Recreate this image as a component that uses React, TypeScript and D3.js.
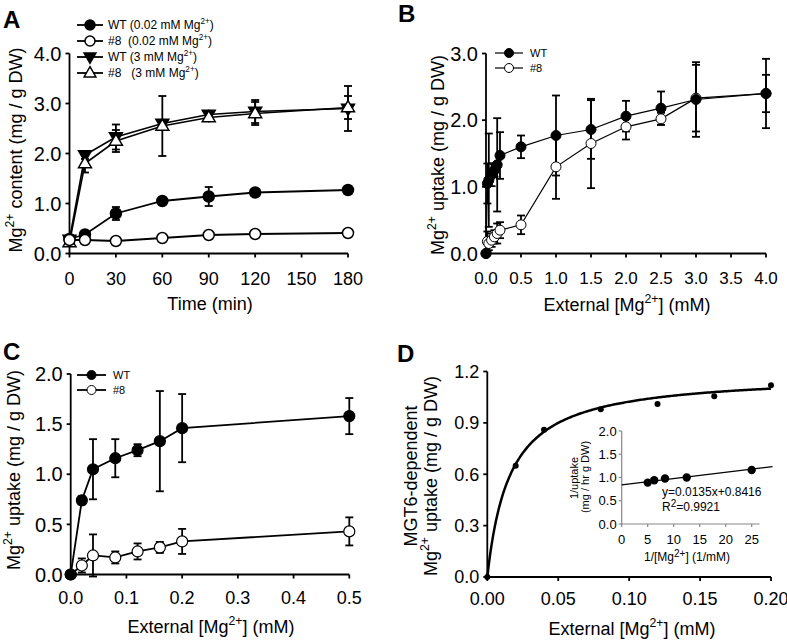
import React from "react";
import * as d3 from "d3";

const FONT = "Arial, 'Liberation Sans', Helvetica, sans-serif";

// ---------- Panel A ----------
const timeA = [0, 10, 30, 60, 90, 120, 180];
const wtLowA = [0.29, 0.38, 0.8, 1.05, 1.14, 1.22, 1.27];
const wtLowErrA = [0.03, 0.05, 0.13, 0.04, 0.19, 0.05, 0.04];
const m8LowA = [0.27, 0.27, 0.25, 0.31, 0.37, 0.39, 0.41];
const m8LowErrA = [0.02, 0.02, 0.02, 0.02, 0.03, 0.02, 0.02];
const wtHighA = [0.28, 1.97, 2.33, 2.6, 2.78, 2.84, 2.9];
const wtHighErrA = [0.03, 0.08, 0.25, 0.05, 0.07, 0.23, 0.45];
const m8HighA = [0.22, 1.8, 2.25, 2.55, 2.72, 2.8, 2.92];
const m8HighErrA = [0.03, 0.18, 0.22, 0.6, 0.07, 0.23, 0.23];
const ticksAx = [0, 30, 60, 90, 120, 150, 180];
const ticksAy = [0, 1, 2, 3, 4];
const legendA = ["WT (0.02 mM ", "#8  (0.02 mM ", "WT (3 mM ", "#8   (3 mM "];

// ---------- Panel B ----------
const concB = [0, 0.02, 0.04, 0.08, 0.12, 0.16, 0.2, 0.5, 1, 1.5, 2, 2.5, 3, 4];
const wtB = [0, 1.05, 1.1, 1.18, 1.25, 1.33, 1.47, 1.6, 1.77, 1.86, 2.06, 2.18, 2.31, 2.4];
const wtErrB = [0, 0.3, 0.7, 0.17, 0.1, 0.7, 0.35, 0.17, 0.6, 0.44, 0.23, 0.25, 0.56, 0.52];
const m8B = [0, 0.18, 0.15, 0.2, 0.25, 0.3, 0.35, 0.43, 1.3, 1.65, 1.9, 2.02, 2.33, 2.4];
const m8ErrB = [0, 0.15, 0.1, 0.1, 0.1, 0.15, 0.12, 0.14, 0.48, 0.67, 0.19, 0.09, 0.5, 0.28];
const ticksBx = [0, 0.5, 1, 1.5, 2, 2.5, 3, 3.5, 4];
const ticksBy = [0, 1, 2, 3];

// ---------- Panel C ----------
const concC = [0, 0.02, 0.04, 0.08, 0.12, 0.16, 0.2, 0.5];
const wtC = [0, 0.74, 1.05, 1.16, 1.24, 1.33, 1.46, 1.58];
const wtErrC = [0, 0.04, 0.3, 0.19, 0.06, 0.5, 0.34, 0.18];
const m8C = [0, 0.09, 0.19, 0.17, 0.23, 0.27, 0.33, 0.43];
const m8ErrC = [0, 0.07, 0.21, 0.06, 0.08, 0.055, 0.125, 0.14];
const ticksCx = [0, 0.1, 0.2, 0.3, 0.4, 0.5];
const ticksCy = [0, 0.5, 1, 1.5, 2];

// ---------- Panel D ----------
const concD = [0, 0.02, 0.04, 0.08, 0.12, 0.16, 0.2];
const uptakeD = [0, 0.65, 0.86, 0.98, 1.01, 1.055, 1.12];
const fitSlope = 0.0135;
const fitIntercept = 0.8416;
const fitR2 = "0.9921";
const ticksDx = [0, 0.05, 0.1, 0.15, 0.2];
const ticksDy = [0, 0.3, 0.6, 0.9, 1.2];
const invConc = [5, 6.25, 8.33, 12.5, 25];
const invUptake = [0.89, 0.94, 0.98, 1.0, 1.16];
const ticksIx = [0, 5, 10, 15, 20, 25];
const ticksIy = [0, 0.5, 1, 1.5, 2];

// ---------- scales ----------
const xA = d3.scaleLinear().domain([0, 180]).range([69.5, 348]);
const yA = d3.scaleLinear().domain([0, 4]).range([253.5, 53.5]);
const xB = d3.scaleLinear().domain([0, 4]).range([486, 766]);
const yB = d3.scaleLinear().domain([0, 3]).range([253.5, 53.5]);
const xC = d3.scaleLinear().domain([0, 0.5]).range([70.7, 349.3]);
const yC = d3.scaleLinear().domain([0, 2]).range([574.5, 374]);
const xD = d3.scaleLinear().domain([0, 0.2]).range([487.3, 771]);
const yD = d3.scaleLinear().domain([0, 1.2]).range([577, 371.5]);
const xI = d3.scaleLinear().domain([0, 25]).range([621.7, 751.7]);
const yI = d3.scaleLinear().domain([0, 2]).range([524, 431]);

type Sc = d3.ScaleLinear<number, number>;

function Mg({ pre = "", post = "", fs }: { pre?: string; post?: string; fs: number }) {
  return (
    <>
      {pre}Mg
      <tspan dy={-fs * 0.42} fontSize={fs * 0.68}>2+</tspan>
      <tspan dy={fs * 0.42}>{post}</tspan>
    </>
  );
}

function YAxis({ x, y, ticks, fmt, fs, stroke = "#000", sw = 1.8, gap = 8, tl = 4 }: any) {
  const x0 = x.range()[0];
  const [d0, d1] = y.domain();
  return (
    <g>
      <line x1={x0} x2={x0} y1={y(d0) + sw / 2} y2={y(d1)} stroke={stroke} strokeWidth={sw} />
      {ticks.map((t: number) => (
        <g key={t}>
          <line x1={x0 - tl} x2={x0} y1={y(t)} y2={y(t)} stroke={stroke} strokeWidth={sw} />
          <text x={x0 - gap} y={y(t)} dy="0.36em" textAnchor="end" fontSize={fs} fontFamily={FONT}>
            {fmt(t)}
          </text>
        </g>
      ))}
    </g>
  );
}

function XAxis({ x, y, ticks, fmt, fs, stroke = "#000", sw = 1.8, off = 29, tl = 4, xmax }: any) {
  const y0 = y.range()[0];
  const [d0, d1] = x.domain();
  return (
    <g>
      <line x1={x(d0) - sw / 2} x2={x(xmax ?? d1)} y1={y0} y2={y0} stroke={stroke} strokeWidth={sw} />
      {ticks.map((t: number) => (
        <g key={t}>
          <line x1={x(t)} x2={x(t)} y1={y0} y2={y0 + tl} stroke={stroke} strokeWidth={sw} />
          <text x={x(t)} y={y0 + off} textAnchor="middle" fontSize={fs} fontFamily={FONT}>
            {fmt(t)}
          </text>
        </g>
      ))}
    </g>
  );
}

function ErrBars({ x, y, xs, ys, es, cap = 8, sw = 1.8 }: any) {
  return (
    <g stroke="#000" strokeWidth={sw}>
      {xs.map((xv: number, i: number) => {
        if (!es[i]) return null;
        const cx = x(xv);
        const t = y(ys[i] + es[i]);
        const b = y(ys[i] - es[i]);
        return (
          <g key={i}>
            <line x1={cx} x2={cx} y1={t} y2={b} />
            <line x1={cx - cap / 2} x2={cx + cap / 2} y1={t} y2={t} />
            <line x1={cx - cap / 2} x2={cx + cap / 2} y1={b} y2={b} />
          </g>
        );
      })}
    </g>
  );
}

function Series({ x, y, xs, ys, sw = 1.8 }: any) {
  const line = d3.line<number>().x((_, i) => x(xs[i])).y((d) => y(d));
  return <path d={line(ys) || ""} fill="none" stroke="#000" strokeWidth={sw} />;
}

function Markers({ x, y, xs, ys, kind, r = 5.5, sw = 1.5 }: any) {
  return (
    <g>
      {xs.map((xv: number, i: number) => (
        <Marker key={i} cx={x(xv)} cy={y(ys[i])} kind={kind} r={r} sw={sw} />
      ))}
    </g>
  );
}

function Marker({ cx, cy, kind, r, sw }: any) {
  const filled = kind === "fc" || kind === "ftd";
  const fill = filled ? "#000" : "#fff";
  if (kind === "fc" || kind === "oc") {
    return <circle cx={cx} cy={cy} r={r} fill={fill} stroke="#000" strokeWidth={sw} />;
  }
  const sym = d3.symbol().type(d3.symbolTriangle).size(r * r * 2.4)() || "";
  const rot = kind === "ftd" ? 180 : 0;
  return (
    <path d={sym} transform={`translate(${cx},${cy + (kind === "ftd" ? -0.5 : 0.5)}) rotate(${rot})`} fill={fill} stroke="#000" strokeWidth={sw} />
  );
}

function LegendRow({ x1, x2, y, kind, r, sw, lsw, tx, fs, children }: any) {
  return (
    <g>
      <line x1={x1} x2={x2} y1={y} y2={y} stroke="#000" strokeWidth={lsw} />
      <Marker cx={(x1 + x2) / 2} cy={y} kind={kind} r={r} sw={sw} />
      <text x={tx} y={y} dy="0.36em" fontSize={fs} fontFamily={FONT} style={{ whiteSpace: "pre" }}>
        {children}
      </text>
    </g>
  );
}

function PanelLabel({ x, y, t }: any) {
  return (
    <text x={x} y={y} fontSize={24} fontWeight="bold" fontFamily={FONT}>
      {t}
    </text>
  );
}

const f1 = d3.format(".1f");
const f2 = d3.format(".2f");
const f0 = d3.format("d");

export default function App() {
  const kindsA = ["fc", "oc", "ftd", "otu"];
  // fitted Michaelis-Menten curve from the Lineweaver-Burk fit
  const vmax = 1 / fitIntercept;
  const km = fitSlope / fitIntercept;
  const curveX = d3.range(0, 0.2001, 0.001);
  const curve = d3
    .line<number>()
    .x((s) => xD(s))
    .y((s) => yD((vmax * s) / (km + s)))
    .curve(d3.curveLinear)(curveX);
  const fitLine = d3
    .line<number>()
    .x((v) => xI(v))
    .y((v) => yI(fitSlope * v + fitIntercept))([0, 29]);

  return (
    <svg width={787} height={643} style={{ position: "absolute", left: 0, top: 0, background: "#fff" }} fontFamily={FONT}>
      <rect width={787} height={643} fill="#fff" />

      {/* ---------------- A ---------------- */}
      <PanelLabel x={3} y={28} t="A" />
      <YAxis x={xA} y={yA} ticks={ticksAy} fmt={f1} fs={20} />
      <XAxis x={xA} y={yA} ticks={ticksAx} fmt={f0} fs={18} off={31} />
      <text transform={`translate(21.5,${150}) rotate(-90)`} textAnchor="middle" fontSize={18}>
        <Mg fs={18} post=" content (mg / g DW)" />
      </text>
      <text x={210} y={310} textAnchor="middle" fontSize={18}>Time (min)</text>
      <ErrBars x={xA} y={yA} xs={timeA} ys={wtHighA} es={wtHighErrA} />
      <ErrBars x={xA} y={yA} xs={timeA} ys={m8HighA} es={m8HighErrA} />
      <ErrBars x={xA} y={yA} xs={timeA} ys={wtLowA} es={wtLowErrA} />
      <ErrBars x={xA} y={yA} xs={timeA} ys={m8LowA} es={m8LowErrA} />
      <Series x={xA} y={yA} xs={timeA} ys={wtHighA} sw={1.6} />
      <Series x={xA} y={yA} xs={timeA} ys={m8HighA} sw={1.6} />
      <Series x={xA} y={yA} xs={timeA} ys={wtLowA} />
      <Series x={xA} y={yA} xs={timeA} ys={m8LowA} />
      <Markers x={xA} y={yA} xs={timeA} ys={wtHighA} kind="ftd" r={5.5} />
      <Markers x={xA} y={yA} xs={timeA} ys={m8HighA} kind="otu" r={5.5} />
      <Markers x={xA} y={yA} xs={timeA} ys={wtLowA} kind="fc" r={5.5} />
      <Markers x={xA} y={yA} xs={timeA} ys={m8LowA} kind="oc" r={5.5} />
      {legendA.map((lab, i) => (
        <LegendRow key={i} x1={77} x2={103} y={25 + i * 16} kind={kindsA[i]} r={5} sw={1.5} lsw={1.8} tx={108} fs={12}>
          <Mg fs={12} pre={lab} post=")" />
        </LegendRow>
      ))}

      {/* ---------------- B ---------------- */}
      <PanelLabel x={398} y={22} t="B" />
      <YAxis x={xB} y={yB} ticks={ticksBy} fmt={f1} fs={20} />
      <XAxis x={xB} y={yB} ticks={ticksBx} fmt={f1} fs={17} off={30} />
      <text transform={`translate(444,${155}) rotate(-90)`} textAnchor="middle" fontSize={18}>
        <Mg fs={18} post=" uptake (mg / g DW)" />
      </text>
      <text x={627} y={311} textAnchor="middle" fontSize={18}>
        <Mg fs={18} pre="External [" post="] (mM)" />
      </text>
      <ErrBars x={xB} y={yB} xs={concB} ys={wtB} es={wtErrB} />
      <ErrBars x={xB} y={yB} xs={concB} ys={m8B} es={m8ErrB} />
      <Series x={xB} y={yB} xs={concB} ys={wtB} sw={1.2} />
      <Series x={xB} y={yB} xs={concB} ys={m8B} sw={1.2} />
      <Markers x={xB} y={yB} xs={concB} ys={m8B} kind="oc" r={5} sw={1} />
      <Markers x={xB} y={yB} xs={concB} ys={wtB} kind="fc" r={5} sw={1} />
      <LegendRow x1={495} x2={523} y={53} kind="fc" r={4.5} sw={1} lsw={1.2} tx={530} fs={11}>WT</LegendRow>
      <LegendRow x1={495} x2={523} y={68} kind="oc" r={4.5} sw={1} lsw={1.2} tx={530} fs={11}>#8</LegendRow>

      {/* ---------------- C ---------------- */}
      <PanelLabel x={3} y={360} t="C" />
      <YAxis x={xC} y={yC} ticks={ticksCy} fmt={f1} fs={20} />
      <XAxis x={xC} y={yC} ticks={ticksCx} fmt={f1} fs={18} off={29} />
      <text transform={`translate(20,${470}) rotate(-90)`} textAnchor="middle" fontSize={18}>
        <Mg fs={18} post=" uptake (mg / g DW)" />
      </text>
      <text x={211} y={633} textAnchor="middle" fontSize={18}>
        <Mg fs={18} pre="External [" post="] (mM)" />
      </text>
      <ErrBars x={xC} y={yC} xs={concC} ys={wtC} es={wtErrC} />
      <ErrBars x={xC} y={yC} xs={concC} ys={m8C} es={m8ErrC} />
      <Series x={xC} y={yC} xs={concC} ys={wtC} />
      <Series x={xC} y={yC} xs={concC} ys={m8C} />
      <Markers x={xC} y={yC} xs={concC} ys={m8C} kind="oc" r={5.5} sw={1.2} />
      <Markers x={xC} y={yC} xs={concC} ys={wtC} kind="fc" r={5.5} sw={1.2} />
      <LegendRow x1={77} x2={106} y={375} kind="fc" r={4.5} sw={1} lsw={1.8} tx={113} fs={11}>WT</LegendRow>
      <LegendRow x1={77} x2={106} y={390} kind="oc" r={4.5} sw={1} lsw={1.8} tx={113} fs={11}>#8</LegendRow>

      {/* ---------------- D ---------------- */}
      <PanelLabel x={397} y={362} t="D" />
      <YAxis x={xD} y={yD} ticks={ticksDy} fmt={f1} fs={18} />
      <XAxis x={xD} y={yD} ticks={ticksDx} fmt={f2} fs={18} off={28} />
      <text transform={`translate(417,${476}) rotate(-90)`} textAnchor="middle" fontSize={18}>MGT6-dependent</text>
      <text transform={`translate(437,${476}) rotate(-90)`} textAnchor="middle" fontSize={18}>
        <Mg fs={18} post=" uptake (mg / g DW)" />
      </text>
      <text x={632} y={635} textAnchor="middle" fontSize={18}>
        <Mg fs={18} pre="External [" post="] (mM)" />
      </text>
      <path d={curve || ""} fill="none" stroke="#000" strokeWidth={2.5} />
      {concD.map((c, i) => (
        <circle key={i} cx={xD(c)} cy={yD(uptakeD[i])} r={3} fill="#000" />
      ))}

      {/* inset */}
      <YAxis x={xI} y={yI} ticks={ticksIy} fmt={f1} fs={13} stroke="#888" sw={1.2} gap={5} tl={3} />
      <XAxis x={xI} y={yI} ticks={ticksIx} fmt={f0} fs={13} stroke="#888" sw={1.2} off={20} tl={3} xmax={26.5} />
      <path d={fitLine || ""} fill="none" stroke="#000" strokeWidth={1.2} />
      {invConc.map((c, i) => (
        <circle key={i} cx={xI(c)} cy={yI(invUptake[i])} r={4.2} fill="#000" />
      ))}
      <text transform={`translate(578,${478}) rotate(-90)`} textAnchor="middle" fontSize={11}>1/uptake</text>
      <text transform={`translate(589,${477}) rotate(-90)`} textAnchor="middle" fontSize={11}>(mg / hr g DW)</text>
      <text x={687} y={561} textAnchor="middle" fontSize={12}>
        1/[Mg<tspan dy={-4} fontSize={10}>2+</tspan><tspan dy={4}>] (1/mM)</tspan>
      </text>
      <text x={662} y={496} fontSize={12}>{`y=${fitSlope}x+${fitIntercept}`}</text>
      <text x={662} y={511} fontSize={12}>
        R<tspan dy={-4} fontSize={10}>2</tspan><tspan dy={4}>={fitR2}</tspan>
      </text>
    </svg>
  );
}
